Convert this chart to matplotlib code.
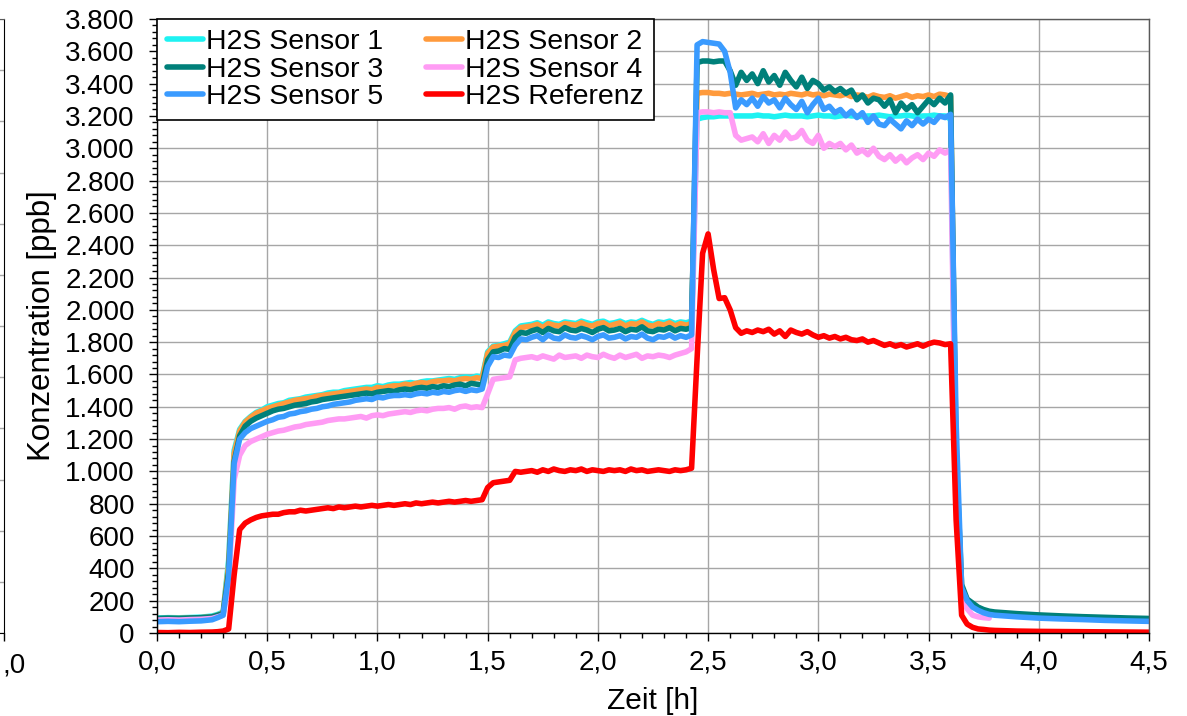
import numpy as np
import matplotlib
matplotlib.use("Agg")
import matplotlib.pyplot as plt
from matplotlib.ticker import MultipleLocator, FuncFormatter

plt.rcParams['font.family'] = ['Liberation Sans', 'DejaVu Sans']

# ---------------------------------------------------------------------------
# Time base [h]: coarse before the first dosing step, 0.025 h through the
# dosing phases, coarse again in the decay tail.
# ---------------------------------------------------------------------------
t_start = [0.0, 0.05, 0.10, 0.15, 0.20, 0.25, 0.275]
t_mid = [round(0.300 + 0.025 * k, 3) for k in range(141)]   # 0.300 ... 3.800
t_end = [3.9, 4.0, 4.1, 4.2, 4.3, 4.4, 4.5]
zeit = np.array(t_start + t_mid + t_end)

nan = np.nan

# H2S Sensor 1 [ppb]
sensor1 = (
    [92, 95, 94, 96, 98, 105, 115]
    + [130, 450, 1130, 1260, 1310, 1340, 1365, 1380]      # 0.300-0.475
    + [1400, 1410, 1420, 1425, 1440, 1445, 1450, 1460]    # 0.500-0.675
    + [1465, 1470, 1475, 1485, 1490, 1490, 1500, 1505]    # 0.700-0.875
    + [1510, 1515, 1520, 1520, 1530, 1525, 1535, 1540]    # 0.900-1.075
    + [1540, 1545, 1550, 1545, 1555, 1560, 1560, 1565]    # 1.100-1.275
    + [1570, 1575, 1570, 1580, 1585, 1580, 1590, 1585]    # 1.300-1.475
    + [1740, 1775, 1780, 1790, 1800, 1870, 1900, 1905]    # 1.500-1.675
    + [1910, 1920, 1905, 1925, 1915, 1910, 1925, 1920]    # 1.700-1.875
    + [1915, 1930, 1920, 1910, 1925, 1930, 1915, 1920]    # 1.900-2.075
    + [1930, 1915, 1925, 1920, 1935, 1920, 1910, 1925]    # 2.100-2.275
    + [1920, 1930, 1915, 1925, 1920, 1930, 3180, 3190]    # 2.300-2.475
    + [3195, 3195, 3200, 3200, 3200, 3200, 3200, 3200]    # 2.500-2.675
    + [3200, 3205, 3200, 3200, 3195, 3200, 3205, 3200]    # 2.700-2.875
    + [3200, 3200, 3195, 3200, 3205, 3200, 3200, 3195]    # 2.900-3.075
    + [3200, 3205, 3200, 3200, 3195, 3200, 3200, 3205]    # 3.100-3.275
    + [3200, 3195, 3200, 3200, 3205, 3200, 3195, 3200]    # 3.300-3.475
    + [3200, 3205, 3200, 3200, 3180, 900, 260, 190]       # 3.500-3.675
    + [175, 155, 140, 130, 125]                           # 3.700-3.800
    + [115, 105, 100, 95, 90, 86, 82]
)

# H2S Sensor 2 [ppb]
sensor2 = (
    [88, 90, 90, 92, 95, 100, 110]
    + [125, 420, 1110, 1250, 1305, 1335, 1360, 1375]
    + [1390, 1400, 1410, 1420, 1430, 1440, 1445, 1450]
    + [1455, 1465, 1470, 1475, 1480, 1485, 1490, 1495]
    + [1500, 1505, 1510, 1505, 1520, 1515, 1525, 1530]
    + [1530, 1540, 1535, 1545, 1550, 1545, 1555, 1560]
    + [1560, 1565, 1560, 1570, 1575, 1570, 1580, 1575]
    + [1730, 1770, 1775, 1780, 1790, 1860, 1890, 1895]
    + [1900, 1910, 1890, 1915, 1905, 1900, 1915, 1910]
    + [1905, 1920, 1905, 1900, 1915, 1920, 1900, 1910]
    + [1920, 1900, 1915, 1910, 1925, 1905, 1900, 1915]
    + [1905, 1920, 1900, 1915, 1905, 1915, 3340, 3345]
    + [3345, 3340, 3340, 3335, 3340, 3335, 3330, 3335]
    + [3340, 3330, 3335, 3340, 3330, 3335, 3330, 3340]
    + [3335, 3330, 3340, 3330, 3335, 3325, 3335, 3330]
    + [3325, 3335, 3320, 3330, 3325, 3315, 3330, 3320]
    + [3315, 3325, 3310, 3320, 3330, 3315, 3325, 3320]
    + [3330, 3320, 3335, 3330, 3320, 1000, 250, 185]
    + [170, 150, 135, 125, 120]
    + [110, 102, 97, 92, 88, 84, 80]
)

# H2S Sensor 3 [ppb]
sensor3 = (
    [90, 92, 90, 93, 95, 100, 110]
    + [120, 380, 1060, 1220, 1280, 1310, 1330, 1345]
    + [1360, 1375, 1385, 1390, 1400, 1410, 1415, 1420]
    + [1430, 1435, 1445, 1450, 1455, 1460, 1465, 1470]
    + [1475, 1480, 1485, 1480, 1490, 1495, 1500, 1495]
    + [1505, 1510, 1505, 1515, 1520, 1515, 1525, 1520]
    + [1530, 1525, 1535, 1540, 1530, 1545, 1540, 1535]
    + [1690, 1740, 1745, 1760, 1755, 1830, 1860, 1855]
    + [1870, 1880, 1860, 1885, 1870, 1865, 1890, 1875]
    + [1870, 1885, 1875, 1860, 1880, 1890, 1870, 1875]
    + [1885, 1865, 1880, 1875, 1895, 1870, 1865, 1880]
    + [1875, 1890, 1870, 1885, 1880, 1890, 3530, 3540]
    + [3540, 3535, 3540, 3540, 3480, 3390, 3470, 3420]
    + [3460, 3400, 3480, 3410, 3450, 3390, 3470, 3420]
    + [3380, 3440, 3370, 3420, 3400, 3360, 3380, 3350]
    + [3370, 3340, 3360, 3300, 3330, 3280, 3310, 3300]
    + [3260, 3300, 3220, 3280, 3240, 3270, 3220, 3260]
    + [3300, 3270, 3310, 3280, 3330, 1100, 300, 210]
    + [185, 160, 145, 135, 130]
    + [120, 112, 106, 101, 97, 93, 90]
)

# H2S Sensor 4 [ppb]
sensor4 = (
    [80, 82, 80, 83, 85, 90, 100]
    + [110, 300, 950, 1100, 1160, 1185, 1200, 1215]
    + [1230, 1240, 1250, 1255, 1265, 1275, 1280, 1290]
    + [1295, 1300, 1305, 1315, 1320, 1325, 1325, 1330]
    + [1335, 1340, 1330, 1345, 1350, 1345, 1355, 1360]
    + [1365, 1370, 1365, 1375, 1380, 1375, 1385, 1390]
    + [1390, 1395, 1385, 1400, 1405, 1395, 1400, 1395]
    + [1480, 1570, 1575, 1580, 1585, 1690, 1700, 1705]
    + [1710, 1700, 1715, 1705, 1695, 1720, 1705, 1710]
    + [1715, 1700, 1720, 1710, 1705, 1725, 1710, 1700]
    + [1720, 1705, 1715, 1725, 1700, 1715, 1710, 1720]
    + [1715, 1705, 1720, 1730, 1740, 1760, 3220, 3225]
    + [3225, 3220, 3225, 3220, 3220, 3080, 3050, 3060]
    + [3070, 3040, 3090, 3030, 3080, 3050, 3100, 3060]
    + [3070, 3110, 3050, 3030, 3080, 3000, 3030, 3010]
    + [3030, 2990, 3020, 2970, 2990, 2960, 3000, 2950]
    + [2930, 2960, 2920, 2950, 2910, 2940, 2960, 2930]
    + [2970, 2950, 2990, 2970, 2990, 900, 220, 150]
    + [110, 100, 95, 92, nan]
    + [nan, nan, nan, nan, nan, nan, nan]
)

# H2S Sensor 5 [ppb]
sensor5 = (
    [70, 72, 70, 73, 75, 82, 95]
    + [110, 350, 1050, 1200, 1240, 1265, 1280, 1295]
    + [1310, 1320, 1335, 1340, 1355, 1360, 1370, 1375]
    + [1385, 1390, 1400, 1405, 1415, 1420, 1425, 1430]
    + [1440, 1445, 1450, 1445, 1460, 1455, 1465, 1470]
    + [1470, 1475, 1470, 1480, 1485, 1480, 1490, 1485]
    + [1495, 1490, 1500, 1505, 1495, 1505, 1500, 1510]
    + [1650, 1710, 1705, 1720, 1715, 1780, 1820, 1815]
    + [1830, 1840, 1815, 1845, 1825, 1820, 1845, 1830]
    + [1825, 1840, 1830, 1815, 1835, 1845, 1825, 1830]
    + [1840, 1820, 1835, 1830, 1850, 1825, 1815, 1835]
    + [1830, 1845, 1825, 1840, 1830, 1845, 3640, 3660]
    + [3655, 3650, 3645, 3600, 3470, 3250, 3300, 3270]
    + [3310, 3260, 3320, 3280, 3300, 3250, 3310, 3270]
    + [3240, 3290, 3220, 3270, 3310, 3240, 3260, 3220]
    + [3240, 3200, 3230, 3190, 3220, 3160, 3200, 3150]
    + [3140, 3180, 3150, 3120, 3170, 3140, 3180, 3150]
    + [3180, 3160, 3200, 3190, 3210, 1300, 280, 200]
    + [160, 140, 125, 115, 110]
    + [100, 92, 87, 83, 78, 75, 72]
)

# H2S Referenz [ppb]
referenz = (
    [3, 2, 4, 3, 5, 6, 8]
    + [12, 25, 360, 640, 680, 700, 715, 725]
    + [730, 735, 735, 745, 750, 750, 760, 755]
    + [760, 765, 770, 775, 770, 780, 775, 780]
    + [785, 780, 785, 790, 785, 790, 795, 790]
    + [795, 800, 795, 805, 800, 805, 810, 805]
    + [810, 815, 810, 815, 820, 815, 820, 825]
    + [900, 930, 935, 940, 945, 1000, 995, 1000]
    + [1005, 995, 1010, 1000, 1015, 1005, 1000, 1010]
    + [1005, 1015, 1000, 1010, 1005, 1000, 1010, 1005]
    + [1010, 1000, 1015, 1005, 1010, 1000, 1005, 1010]
    + [1005, 1000, 1010, 1005, 1010, 1020, 1700, 2350]
    + [2470, 2250, 2070, 2075, 2000, 1890, 1855, 1870]
    + [1860, 1875, 1865, 1880, 1850, 1870, 1835, 1875]
    + [1860, 1850, 1865, 1845, 1830, 1840, 1825, 1835]
    + [1820, 1830, 1815, 1810, 1820, 1800, 1810, 1795]
    + [1780, 1790, 1775, 1785, 1770, 1780, 1790, 1775]
    + [1790, 1800, 1795, 1785, 1790, 700, 110, 55]
    + [35, 25, 22, 18, 16]
    + [12, 10, 9, 8, 7, 6, 5]
)

labels = ["H2S Sensor 1", "H2S Sensor 2", "H2S Sensor 3",
          "H2S Sensor 4", "H2S Sensor 5", "H2S Referenz"]
colors = ["#1EF2F2", "#FF9A3C", "#00807A", "#FF9CF4", "#3A9BFF", "#FF0000"]
series = [sensor1, sensor2, sensor3, sensor4, sensor5, referenz]

W, H = 1187, 716
fig = plt.figure(figsize=(W / 100, H / 100), dpi=100)

# Edge of the neighbouring chart on the left
ax0 = fig.add_axes([0, (H - 633) / H, 4 / W, (633 - 19) / H])
ax0.set_xlim(0, 1)
ax0.set_ylim(0, 12)
ax0.set_yticks(range(13))
ax0.tick_params(axis='y', left=False, labelleft=False)
ax0.set_xticks([1])
ax0.tick_params(axis='x', direction='out', length=6, width=1, labelbottom=False)
ax0.grid(axis='y', color='#a6a6a6', lw=1.0)
ax0.spines['left'].set_visible(False)
ax0.spines['top'].set_color('#595959')
ax0.spines['right'].set_color('black')
ax0.spines['bottom'].set_color('black')
fig.text(2 / W, 1 - 665 / H, ",0", fontsize=20, va='center', ha='left')

# Main chart
ax = fig.add_axes([157 / W, (H - 633) / H, (1149 - 157) / W, (633 - 19) / H])
handles = []
for y, lab, col in zip(series, labels, colors):
    ln, = ax.plot(zeit, y, color=col, lw=4.0, label=lab,
                  solid_joinstyle='round', solid_capstyle='round')
    handles.append(ln)

ax.set_xlim(0, 4.5)
ax.set_ylim(0, 3800)
ax.xaxis.set_major_locator(MultipleLocator(0.5))
ax.xaxis.set_minor_locator(MultipleLocator(0.1))
ax.yaxis.set_major_locator(MultipleLocator(200))
ax.yaxis.set_minor_locator(MultipleLocator(40))
ax.xaxis.set_major_formatter(FuncFormatter(lambda v, _: f"{v:.1f}".replace('.', ',')))
ax.yaxis.set_major_formatter(FuncFormatter(lambda v, _: f"{int(round(v)):,}".replace(',', '.')))

ax.grid(True, which='major', color='#a6a6a6', lw=1.0)
ax.set_axisbelow(True)
ax.tick_params(which='major', direction='out', length=6, width=1, labelsize=20,
               color='black')
ax.tick_params(which='minor', direction='out', length=3.5, width=1, color='black')
ax.tick_params(axis='y', which='major', pad=10)
ax.tick_params(axis='x', which='major', pad=6)
for s in ('left', 'bottom'):
    ax.spines[s].set_color('black')
    ax.spines[s].set_linewidth(1.0)
for s in ('top', 'right'):
    ax.spines[s].set_color('#595959')
    ax.spines[s].set_linewidth(1.0)

ax.set_xlabel("Zeit [h]", fontsize=21.5, labelpad=8)
ax.set_ylabel("Konzentration [ppb]", fontsize=22.5, labelpad=6)

order = [0, 2, 4, 1, 3, 5]
leg = ax.legend([handles[i] for i in order], [labels[i] for i in order],
                ncol=2, loc='upper left', bbox_to_anchor=(0, 1),
                borderaxespad=0, frameon=True, fancybox=False,
                edgecolor='black', framealpha=1, fontsize=20.5,
                handlelength=1.25, handletextpad=0.12, columnspacing=1.5,
                labelspacing=0.05, borderpad=0.36)
leg.get_frame().set_linewidth(1.2)

fig.savefig("out.png", dpi=100)
